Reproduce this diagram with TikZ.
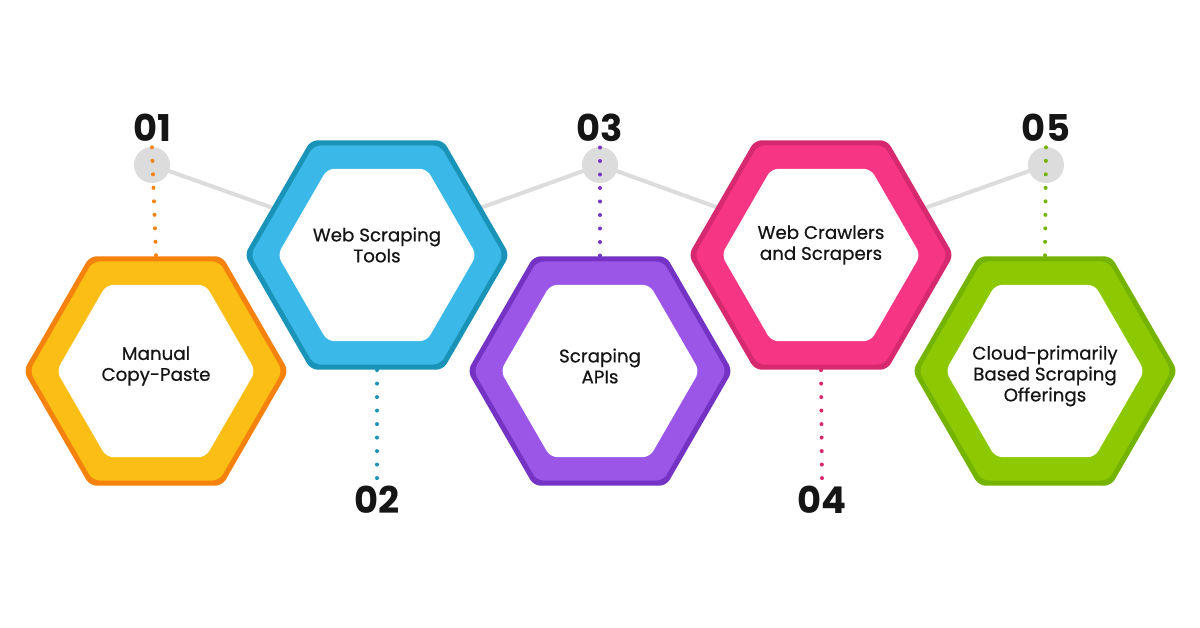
\documentclass[tikz,border=0pt]{standalone}
\usepackage{fontspec}
\setmainfont{Poppins}
\newfontfamily\hexfont{Poppins}[FakeBold=0.6]
\usetikzlibrary{calc}
\usetikzlibrary{backgrounds}
\usetikzlibrary{shapes.geometric}
\definecolor{DarkOrange}{HTML}{F5820D}
\definecolor{LightOrange}{HTML}{FBBE14}
\definecolor{DarkCyan}{HTML}{1A93B8}
\definecolor{LightCyan}{HTML}{3AB9E8}
\definecolor{DarkViolet}{HTML}{7433C4}
\definecolor{LightViolet}{HTML}{9B56E8}
\definecolor{DarkRose}{HTML}{D6296F}
\definecolor{LightRose}{HTML}{F73585}
\definecolor{DarkLime}{HTML}{74B300}
\definecolor{LightLime}{HTML}{8DC903}
\definecolor{LinkGray}{HTML}{DCDCDC}
\definecolor{InkBlack}{HTML}{151515}
\tikzset{
  hexshape/.style={regular polygon, regular polygon sides=6, inner sep=0pt,
    rounded corners=4pt},
  hexlabel/.style={inner sep=0pt, align=center, text=InkBlack,
    font=\hexfont\fontsize{10.4}{11.9}\selectfont},
  numtext/.style={inner sep=3pt, text=InkBlack, font=\fontsize{21}{21}\selectfont\bfseries},
  joint/.style={circle, fill=LinkGray, minimum size=0.72cm, inner sep=0pt},
  linkline/.style={LinkGray, line width=0.08cm},
  dotline/.style={line width=0.08cm, line cap=round, dash pattern=on 0cm off 0.27cm}
}

\begin{document}
\begin{tikzpicture}[x=0.02cm, y=-0.02cm]
  \useasboundingbox (0,0) rectangle (1200,628);

  % the five hexagons, \dy moves the text off the centre
  \foreach \i/\x/\y/\dy/\dk/\lt/\txt in {%
    1/156/371/-5/DarkOrange/LightOrange/{Manual\\Copy-Paste},
    2/377/255/-10/DarkCyan/LightCyan/{Web Scraping\\Tools},
    3/600/371/-5/DarkViolet/LightViolet/{Scraping\\APIs},
    4/821/255/-10/DarkRose/LightRose/{Web Crawlers\\and Scrapers},
    5/1045/371/5/DarkLime/LightLime/{Cloud-primarily\\Based Scraping\\Offerings}}{%
    \node[hexshape, fill=\dk, minimum size=5.3cm] (hex\i) at (\x,\y) {};
    \node[hexshape, fill=\lt, minimum size=5.06cm] (ring\i) at (\x,\y) {};
    \node[hexshape, fill=white, minimum size=3.98cm] (inner\i) at (\x,\y) {};
    \node[hexlabel] (label\i) at (\x,{\y+\dy}) {\txt};
  }

  \node[numtext] (num1) at (152,128) {01};
  \node[numtext] (num2) at (377,500) {02};
  \node[numtext] (num3) at (600,128) {03};
  \node[numtext] (num4) at (822,500) {04};
  \node[numtext] (num5) at (1046,128) {05};

  \begin{scope}[on background layer]
    \fill[white] (0,0) rectangle (1200,628);
    \node[joint] (joint1) at (152,165) {};
    \node[joint] (joint3) at (600,165) {};
    \node[joint] (joint5) at (1046,165) {};
    \draw[linkline] (joint1.center) -- ($(hex2)+(0,-10)$) -- (joint3.center)
      -- ($(hex4)+(0,-10)$) -- (joint5.center);

    \draw[dotline, DarkOrange] (num1.south) -- (hex1.north);
    \draw[dotline, DarkCyan] (hex2.south) -- (num2.north);
    \draw[dotline, DarkViolet] (num3.south) -- (hex3.north);
    \draw[dotline, DarkRose] (hex4.south) -- (num4.north);
    \draw[dotline, DarkLime] (num5.south) -- (hex5.north);
  \end{scope}
\end{tikzpicture}
\end{document}
